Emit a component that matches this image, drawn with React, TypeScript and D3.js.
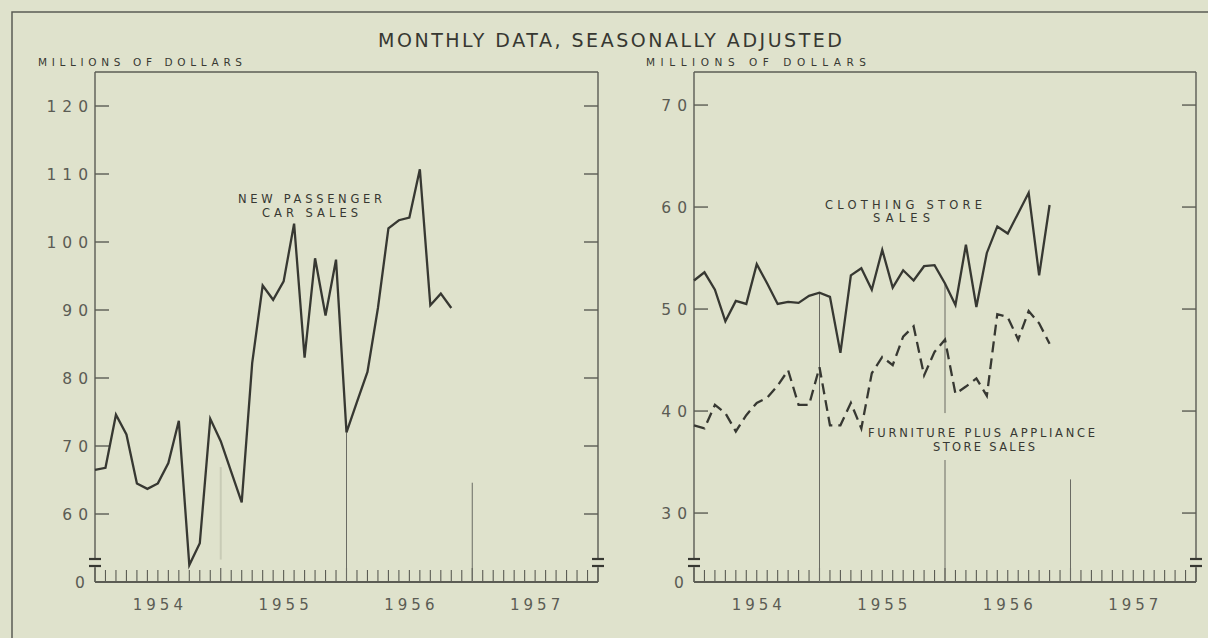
import React, { useEffect, useRef } from 'react';
import * as d3 from 'd3';

// monthly values, Jan 1954 .. Nov 1956
const carSales = [66.5, 66.8, 74.6, 71.7, 64.5, 63.7, 64.5, 67.5, 73.7, 52.5, 55.7, 74.0, 70.7, 66.2, 61.7, 82.2, 93.6, 91.5, 94.2, 102.7, 83.0, 97.6, 89.2, 97.4, 72.0, 76.5, 80.9, 90.3, 102.0, 103.2, 103.6, 110.7, 90.7, 92.4, 90.3];
const clothingSales = [52.8, 53.6, 51.9, 48.8, 50.8, 50.5, 54.4, 52.5, 50.5, 50.7, 50.6, 51.3, 51.6, 51.2, 45.7, 53.3, 54.0, 51.9, 55.8, 52.1, 53.8, 52.8, 54.2, 54.3, 52.5, 50.4, 56.3, 50.2, 55.5, 58.1, 57.4, 59.4, 61.4, 53.3, 60.2];
const furnitureSales = [38.6, 38.3, 40.6, 39.8, 38.0, 39.6, 40.8, 41.3, 42.5, 44.0, 40.6, 40.6, 44.3, 38.6, 38.6, 40.8, 38.3, 43.7, 45.3, 44.5, 47.3, 48.3, 43.5, 45.8, 47.0, 41.7, 42.4, 43.2, 41.5, 49.5, 49.2, 47.0, 49.8, 48.6, 46.6];

const years = ['1954', '1955', '1956', '1957'];
const leftTicks = [60, 70, 80, 90, 100, 110, 120];
const rightTicks = [30, 40, 50, 60, 70];

const BG = '#dfe2cc';
const INK = '#373832';
const GREY = '#5b5c54';
const FONT = '"DejaVu Sans", sans-serif';

export default function App() {
  const svgRef = useRef<SVGSVGElement | null>(null);

  useEffect(() => {
    if (!svgRef.current) return;
    const svg = d3.select(svgRef.current);
    svg.selectAll('*').remove();

    const width = 1208;
    const height = 638;
    const top = 72;
    const base = 582;

    svg.append('rect').attr('width', width).attr('height', height).attr('fill', BG);

    // outer frame
    svg.append('path')
      .attr('d', `M12,${height + 10} V12 H${width + 10}`)
      .attr('fill', 'none').attr('stroke', GREY).attr('stroke-width', 1.5);

    svg.append('text')
      .attr('x', 378).attr('y', 47)
      .attr('textLength', 464).attr('lengthAdjust', 'spacing')
      .attr('font-family', FONT).attr('font-size', 19).attr('fill', INK)
      .text('MONTHLY DATA, SEASONALLY ADJUSTED');

    const panels = [
      {
        x0: 95, x1: 598, domain: [50, 125], ticks: leftTicks,
        unitX: 38, unitLen: 204,
        series: [{ values: carSales, dash: null }],
        guides: [
          { idx: 12, from: 66.9, to: 53.3, faint: true },
          { idx: 24, from: carSales[24], to: 50, faint: false },
          { idx: 36, from: 64.6, to: 50, faint: false },
        ],
        labels: [
          { text: 'NEW PASSENGER', x: 238, y: 203, len: 144 },
          { text: 'CAR SALES', x: 262, y: 217, len: 96 },
        ],
      },
      {
        x0: 694, x1: 1196, domain: [23.24, 73.24], ticks: rightTicks,
        unitX: 646, unitLen: 220,
        series: [
          { values: clothingSales, dash: null },
          { values: furnitureSales, dash: '11,6' },
        ],
        guides: [
          { idx: 12, from: clothingSales[12], to: 23.24, faint: false },
          { idx: 24, from: clothingSales[24], to: 39.8, faint: false },
          { idx: 24, from: 35.2, to: 23.24, faint: false },
          { idx: 36, from: 33.3, to: 23.24, faint: false },
        ],
        labels: [
          { text: 'CLOTHING STORE', x: 825, y: 209, len: 157 },
          { text: 'SALES', x: 873, y: 222, len: 57 },
          { text: 'FURNITURE PLUS APPLIANCE', x: 868, y: 437, len: 227 },
          { text: 'STORE SALES', x: 933, y: 451, len: 102 },
        ],
      },
    ];

    panels.forEach((p) => {
      const x = d3.scaleLinear().domain([0, 48]).range([p.x0, p.x1]);
      const y = d3.scaleLinear().domain(p.domain).range([base, top]);
      const g = svg.append('g');

      g.append('text')
        .attr('x', p.unitX).attr('y', 66)
        .attr('textLength', p.unitLen).attr('lengthAdjust', 'spacing')
        .attr('font-family', FONT).attr('font-size', 10.5).attr('fill', INK)
        .text('MILLIONS OF DOLLARS');

      // frame of the plot, with the scale break near the zero line
      const line = (x1: number, y1: number, x2: number, y2: number, w = 1.4, c = GREY) =>
        g.append('line').attr('x1', x1).attr('y1', y1).attr('x2', x2).attr('y2', y2)
          .attr('stroke', c).attr('stroke-width', w);

      line(p.x0, top, p.x1, top);
      line(p.x0, base, p.x1, base, 1.8);
      [p.x0, p.x1].forEach((ex) => {
        line(ex, top, ex, base - 23);
        line(ex, base - 17, ex, base);
        line(ex - 6, base - 23, ex + 6, base - 23, 2.2, INK);
        line(ex - 6, base - 16, ex + 6, base - 16, 2.2, INK);
      });

      // y ticks on both sides
      p.ticks.forEach((t) => {
        line(p.x0, y(t), p.x0 + 14, y(t));
        line(p.x1 - 14, y(t), p.x1, y(t));
      });
      g.selectAll('text.ytick')
        .data(p.ticks)
        .join('text')
        .attr('class', 'ytick')
        .attr('x', p.x0 - 1)
        .attr('y', (d) => y(d))
        .attr('dy', '0.36em')
        .attr('text-anchor', 'end')
        .attr('letter-spacing', 6)
        .attr('font-family', FONT).attr('font-size', 15.5).attr('fill', GREY)
        .text((d) => String(d));
      g.append('text')
        .attr('x', p.x0 - 15).attr('y', base).attr('dy', '0.36em')
        .attr('text-anchor', 'middle')
        .attr('font-family', FONT).attr('font-size', 15.5).attr('fill', GREY)
        .text('0');

      // month ticks
      g.selectAll('line.mtick')
        .data(d3.range(49))
        .join('line')
        .attr('class', 'mtick')
        .attr('x1', (d) => x(d)).attr('x2', (d) => x(d))
        .attr('y1', base).attr('y2', (d) => (d % 12 === 0 ? base - 14 : base - 12))
        .attr('stroke', GREY).attr('stroke-width', 1.1);

      g.selectAll('text.year')
        .data(years)
        .join('text')
        .attr('class', 'year')
        .attr('x', (d, i) => x(i * 12 + 6) + 2)
        .attr('y', 610)
        .attr('text-anchor', 'middle')
        .attr('letter-spacing', 4)
        .attr('font-family', FONT).attr('font-size', 15).attr('fill', GREY)
        .text((d) => d);

      // year guide lines
      p.guides.forEach((gd) => {
        line(x(gd.idx), y(gd.from), x(gd.idx), y(gd.to), gd.faint ? 2 : 1, gd.faint ? '#c8cbb6' : '#6a6b63');
      });

      // series
      const path = d3.line<number>().x((d, i) => x(i)).y((d) => y(d));
      p.series.forEach((s) => {
        g.append('path')
          .datum(s.values)
          .attr('d', path)
          .attr('fill', 'none')
          .attr('stroke', INK)
          .attr('stroke-width', 2.3)
          .attr('stroke-linejoin', 'miter')
          .attr('stroke-dasharray', s.dash);
      });

      p.labels.forEach((l) => {
        g.append('text')
          .attr('x', l.x).attr('y', l.y)
          .attr('textLength', l.len).attr('lengthAdjust', 'spacing')
          .attr('font-family', FONT).attr('font-size', 11.5).attr('fill', INK)
          .text(l.text);
      });
    });
  }, []);

  return (
    <svg
      ref={svgRef}
      width={1208}
      height={638}
      style={{ position: 'absolute', left: 0, top: 0, display: 'block' }}
    />
  );
}
